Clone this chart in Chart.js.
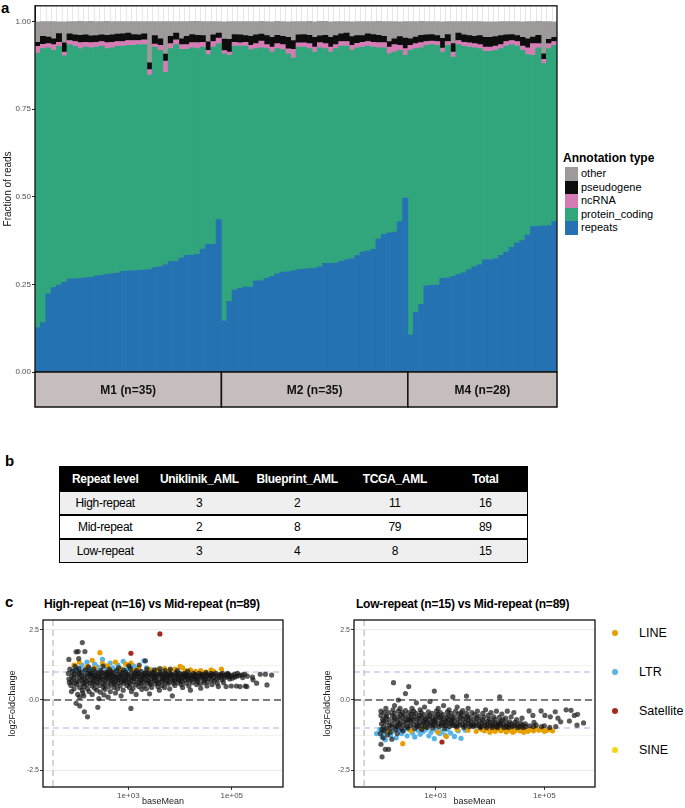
<!DOCTYPE html>
<html><head><meta charset="utf-8">
<script src="https://cdn.jsdelivr.net/npm/chart.js@4"></script>
<style>
html,body{margin:0;padding:0;background:#fff;}
body{width:685px;height:808px;position:relative;overflow:hidden;font-family:'Liberation Sans',Arial,sans-serif;color:#000;}
canvas{position:absolute;}
.plab{position:absolute;font-weight:bold;font-size:15px;line-height:15px;}
.legA{position:absolute;left:563px;top:151px;font-size:11px;}
.legA .ttl{font-weight:bold;font-size:12px;line-height:14px;margin-bottom:2px;}
.legA .it{height:13.5px;line-height:13.5px;display:flex;align-items:center;}
.legA .sw{width:13px;height:13.5px;margin-left:2px;margin-right:3px;}
table{position:absolute;left:59px;top:466px;width:469px;border-collapse:collapse;font-family:'Liberation Sans',Arial,sans-serif;font-size:12px;letter-spacing:-0.3px;border:1.5px solid #000;}
th{background:#000;color:#fff;font-weight:bold;height:23px;padding:0;text-align:center;}
td{height:22px;padding:0;text-align:center;border-top:2px solid #000;}
tr.g td{background:#efefef;}
.ctitle{position:absolute;top:597px;font-weight:bold;font-size:12px;letter-spacing:-0.25px;font-family:'Liberation Sans',Arial,sans-serif;}
.legC{position:absolute;left:612px;font-size:12.5px;display:flex;align-items:center;}
.legC .dot{width:6px;height:6px;border-radius:50%;margin-right:21px;}
</style>
</head><body>
<div class="plab" style="left:1px;top:0px;">a</div>
<canvas id="cA" width="560" height="410" style="left:0;top:0;width:560px;height:410px;"></canvas>
<div class="legA" id="legA"></div>

<div class="plab" style="left:5px;top:453px;">b</div>
<table id="tbl"></table>

<div class="plab" style="left:5px;top:594px;">c</div>
<div class="ctitle" style="left:44px;">High-repeat (n=16) vs Mid-repeat (n=89)</div>
<div class="ctitle" style="left:356px;">Low-repeat (n=15) vs Mid-repeat (n=89)</div>
<canvas id="cL" width="290" height="196" style="left:0;top:612px;width:290px;height:196px;"></canvas>
<canvas id="cR" width="290" height="196" style="left:310px;top:612px;width:290px;height:196px;"></canvas>
<div id="legC"></div>

<script>
// ---------------- Panel a data ----------------
const groupLabels = ['M1 (n=35)', 'M2 (n=35)', 'M4 (n=28)'];
const groupSizes = [35, 35, 28];
const annotationTypes = ['repeats', 'protein_coding', 'ncRNA', 'pseudogene', 'other'];
const annotationColors = ['#2472b2', '#31a67c', '#d67cb5', '#0d0d0d', '#9e9a9a'];
const fracTicks = [0, 0.25, 0.5, 0.75, 1.0];

const repeats = [
 .127,.141,.224,.241,.248,.256,.265,.266,.267,.269,.270,.274,.276,.279,.280,.282,.287,.289,.289,.290,.291,.292,.298,.301,.306,.315,.316,.325,.333,.334,.336,.351,.364,.364,.435,
 .147,.202,.234,.239,.242,.242,.260,.260,.267,.273,.281,.285,.286,.289,.292,.294,.295,.296,.301,.310,.310,.311,.316,.321,.324,.332,.342,.345,.350,.379,.392,.397,.399,.429,.496,
 .107,.170,.193,.246,.247,.248,.267,.268,.273,.279,.283,.292,.300,.306,.321,.321,.323,.333,.342,.356,.368,.375,.391,.415,.416,.417,.417,.429];
const proteinCoding = [
 .783,.782,.701,.677,.681,.646,.669,.663,.656,.658,.655,.653,.654,.644,.645,.647,.643,.643,.643,.644,.643,.555,.629,.617,.549,.608,.618,.596,.588,.591,.587,.576,.542,.563,.502,
 .761,.702,.696,.691,.688,.678,.663,.665,.656,.640,.642,.635,.622,.607,.635,.633,.628,.617,.624,.613,.603,.612,.614,.609,.594,.593,.585,.585,.577,.546,.533,.511,.514,.489,.408,
 .811,.753,.732,.686,.687,.684,.646,.664,.626,.655,.646,.635,.625,.617,.594,.594,.595,.590,.588,.578,.562,.543,.515,.489,.509,.463,.506,.503];
const ncRNA = [
 .019,.012,.012,.016,.012,.011,.012,.014,.017,.014,.015,.014,.013,.017,.016,.014,.013,.014,.014,.012,.014,.016,.009,.014,.032,.014,.014,.013,.013,.015,.017,.014,.012,.016,.016,
 .009,.009,.011,.009,.011,.012,.014,.019,.011,.014,.014,.014,.014,.025,.012,.012,.014,.014,.015,.014,.014,.011,.013,.013,.014,.013,.014,.013,.014,.015,.015,.019,.021,.014,.019,
 .014,.014,.015,.011,.010,.011,.011,.011,.014,.012,.012,.012,.012,.011,.012,.012,.012,.011,.013,.012,.013,.012,.019,.033,.012,.012,.014,.011];
const pseudogene = [
 .012,.023,.019,.017,.025,.026,.019,.019,.021,.021,.019,.019,.019,.021,.021,.021,.022,.021,.017,.016,.017,.019,.024,.019,.020,.021,.019,.017,.024,.023,.021,.019,.024,.019,.014,
 .033,.036,.022,.023,.019,.026,.025,.020,.026,.028,.024,.024,.033,.025,.023,.024,.024,.028,.019,.024,.028,.026,.022,.024,.025,.022,.019,.022,.022,.021,.018,.016,.017,.025,.030,
 .019,.019,.021,.019,.019,.017,.028,.020,.024,.021,.021,.021,.021,.026,.028,.028,.027,.026,.019,.017,.017,.025,.026,.019,.024,.016,.012,.012];
const other = [
 .058,.042,.044,.049,.033,.060,.035,.038,.040,.038,.042,.040,.038,.040,.038,.036,.035,.033,.037,.038,.035,.118,.040,.049,.093,.042,.033,.049,.042,.038,.040,.040,.058,.038,.033,
 .049,.051,.037,.038,.040,.042,.038,.037,.040,.044,.040,.042,.044,.054,.038,.037,.040,.044,.042,.040,.044,.040,.035,.033,.042,.040,.040,.035,.037,.040,.042,.057,.049,.042,.047,
 .049,.044,.040,.038,.037,.040,.047,.037,.063,.033,.038,.040,.042,.040,.044,.044,.042,.040,.038,.037,.040,.044,.049,.044,.040,.092,.051,.044];

// ---------------- Panel b data ----------------
const tableHeader = ['Repeat level', 'Uniklinik_AML', 'Blueprint_AML', 'TCGA_AML', 'Total'];
const repeatLevels = ['High-repeat', 'Mid-repeat', 'Low-repeat'];
const uniklinik = [3, 2, 3];
const blueprint = [2, 8, 4];
const tcga = [11, 79, 8];
const totals = [16, 89, 15];

// ---------------- Panel c data: [log10(baseMean), log2FoldChange] ----------------
const repeatClasses = ['LINE', 'LTR', 'Satellite', 'SINE'];
const classColors = ['#E69F00', '#56B4E9', '#A22B1E', '#F2D517'];
const maXTicks = [1e3, 1e5];
const maXTickLabels = ['1e+03', '1e+05'];
const maYTicks = [-2.5, 0, 2.5];
const maYTickLabels = ['-2.5', '0.0', '2.5'];

const highOther = [
 [1.85,0.75],[1.86,0.62],[1.84,0.95],[1.87,1.10],[1.85,1.45],[1.90,0.68],[1.91,0.85],[1.89,0.52],[1.92,1.02],[1.90,0.30],
 [1.95,0.92],[1.96,0.60],[1.94,0.78],[1.97,1.20],[1.95,0.40],[1.99,1.72],[2.00,0.55],[2.01,0.88],[1.99,1.05],[2.02,0.20],
 [2.00,0.70],[1.99,-0.12],[2.03,1.73],[2.05,0.95],[2.06,0.45],[2.04,0.65],[2.07,0.80],[2.05,1.12],[2.06,0.10],[2.06,-0.21],
 [2.04,1.48],[2.10,0.72],[2.11,0.35],[2.09,0.98],[2.12,0.58],[2.10,0.85],[2.11,2.05],[2.12,0.25],[2.15,0.62],[2.16,0.90],
 [2.14,0.48],[2.17,1.08],[2.15,0.75],[2.15,-0.42],[2.16,1.73],[2.14,0.15],[2.20,0.82],[2.21,0.40],[2.19,0.68],[2.22,0.95],
 [2.20,0.55],[2.21,-0.60],[2.23,1.18],[2.25,0.70],[2.26,0.92],[2.24,0.30],[2.27,0.60],[2.25,1.02],[2.26,0.85],[2.30,0.50],
 [2.31,0.78],[2.29,0.95],[2.32,0.65],[2.30,0.20],[2.31,0.88],[2.33,1.10],[2.35,0.88],[2.36,0.58],[2.34,0.72],[2.37,1.00],
 [2.35,0.42],[2.36,0.80],[2.40,0.62],[2.41,0.95],[2.39,0.35],[2.42,0.75],[2.40,0.85],[2.41,-0.26],[2.43,0.05],[2.45,0.70],
 [2.46,0.90],[2.44,0.52],[2.47,1.05],[2.45,0.80],[2.46,0.28],[2.50,0.85],[2.51,0.60],[2.49,0.98],[2.52,0.45],[2.50,0.75],
 [2.51,1.20],[2.53,0.18],[2.55,0.72],[2.56,0.92],[2.54,0.55],[2.57,0.82],[2.55,0.38],[2.56,1.00],[2.60,0.65],[2.61,0.88],
 [2.59,0.95],[2.62,0.48],[2.60,0.78],[2.61,0.10],[2.63,1.10],[2.65,0.80],[2.66,0.58],[2.64,0.92],[2.67,0.70],[2.65,0.30],
 [2.66,1.02],[2.70,0.90],[2.71,0.62],[2.69,0.75],[2.72,0.45],[2.70,0.98],[2.71,0.85],[2.75,0.68],[2.76,0.85],[2.74,0.55],
 [2.77,1.05],[2.75,0.25],[2.76,0.78],[2.80,0.92],[2.81,0.72],[2.79,0.40],[2.82,0.82],[2.80,0.60],[2.81,1.15],[2.85,0.75],
 [2.86,0.88],[2.84,0.50],[2.87,0.65],[2.85,0.98],[2.86,0.15],[2.90,0.82],[2.91,0.60],[2.89,0.95],[2.92,0.70],[2.90,0.35],
 [2.91,1.08],[2.95,0.68],[2.96,0.90],[2.94,0.78],[2.97,0.52],[2.95,1.00],[3.00,0.85],[3.01,0.62],[2.99,0.92],[3.02,0.45],
 [3.00,0.75],[3.01,1.22],[3.05,0.72],[3.06,0.95],[3.04,0.58],[3.07,0.80],[3.05,-0.30],[3.06,0.30],[3.04,1.12],[3.10,0.88],
 [3.11,0.65],[3.09,0.42],[3.12,0.98],[3.10,0.78],[3.15,0.75],[3.16,0.92],[3.14,0.55],[3.17,0.85],[3.15,0.20],[3.16,1.05],
 [3.20,0.62],[3.21,0.82],[3.19,0.95],[3.22,0.70],[3.20,0.48],[3.21,1.25],[3.25,0.90],[3.26,0.72],[3.24,0.58],[3.27,0.85],
 [3.25,1.02],[3.26,0.38],[3.30,0.78],[3.31,0.95],[3.29,0.65],[3.32,0.88],[3.30,0.50],[3.33,1.40],[3.35,0.70],[3.36,0.85],
 [3.34,0.98],[3.37,0.60],[3.35,0.40],[3.36,1.10],[3.40,0.82],[3.41,0.92],[3.39,0.68],[3.42,0.55],[3.40,0.95],[3.41,0.22],
 [3.45,0.75],[3.46,0.88],[3.44,0.62],[3.47,1.00],[3.45,0.45],[3.50,0.85],[3.51,0.70],[3.49,0.95],[3.52,0.58],[3.50,0.78],
 [3.51,1.08],[3.55,0.92],[3.56,0.65],[3.54,0.80],[3.57,0.48],[3.55,0.88],[3.60,0.72],[3.61,0.90],[3.59,0.60],[3.62,0.98],
 [3.60,0.35],[3.61,1.12],[3.65,0.82],[3.66,0.68],[3.64,0.92],[3.67,0.75],[3.65,0.52],[3.70,0.88],[3.71,0.62],[3.69,0.78],
 [3.72,0.95],[3.70,0.45],[3.71,1.05],[3.75,0.70],[3.76,0.85],[3.74,0.92],[3.77,0.58],[3.75,0.80],[3.80,0.78],[3.81,0.95],
 [3.79,0.65],[3.82,0.88],[3.80,0.40],[3.81,1.10],[3.85,0.85],[3.86,0.72],[3.84,0.92],[3.87,0.60],[3.85,0.15],[3.90,0.75],
 [3.91,0.90],[3.89,0.68],[3.92,0.98],[3.90,0.52],[3.95,0.82],[3.96,0.62],[3.94,0.88],[3.97,0.72],[3.95,1.05],[4.00,0.90],
 [4.01,0.70],[3.99,0.78],[4.02,0.55],[4.00,0.95],[4.05,0.80],[4.06,0.92],[4.04,0.65],[4.07,0.85],[4.05,0.45],[4.10,0.72],
 [4.11,0.88],[4.09,0.95],[4.12,0.60],[4.10,0.82],[4.15,0.85],[4.16,0.75],[4.14,0.92],[4.17,0.50],[4.15,1.02],[4.20,0.78],
 [4.21,0.90],[4.19,0.68],[4.22,0.88],[4.20,0.35],[4.25,0.82],[4.26,0.95],[4.24,0.62],[4.27,0.75],[4.30,0.88],[4.31,0.72],
 [4.29,0.92],[4.32,0.55],[4.30,0.80],[4.35,0.75],[4.36,0.85],[4.34,0.65],[4.37,0.95],[4.40,0.90],[4.41,0.78],[4.39,0.58],
 [4.42,0.88],[4.40,0.42],[4.45,0.82],[4.46,0.70],[4.44,0.92],[4.47,0.62],[4.50,0.85],[4.51,0.92],[4.49,0.75],[4.52,0.50],
 [4.50,0.98],[4.55,0.78],[4.56,0.88],[4.54,0.65],[4.60,0.90],[4.61,0.72],[4.59,0.85],[4.62,0.55],[4.60,0.95],[4.65,0.82],
 [4.66,0.68],[4.64,0.92],[4.70,0.88],[4.71,0.75],[4.69,0.95],[4.72,0.60],[4.75,0.80],[4.76,0.90],[4.74,0.48],[4.80,0.85],
 [4.81,0.72],[4.79,0.92],[4.82,0.95],[4.85,0.78],[4.86,0.88],[4.84,0.62],[4.90,0.90],[4.91,0.82],[4.89,0.48],[4.92,0.95],
 [4.95,0.85],[4.96,0.75],[4.94,0.92],[5.00,0.88],[5.01,0.78],[4.99,0.50],[5.05,0.92],[5.06,0.82],[5.10,0.85],[5.11,0.95],
 [5.09,0.50],[5.15,0.88],[5.16,0.48],[5.20,0.90],[5.21,0.80],[5.25,0.92],[5.26,0.50],[5.30,0.85],[5.29,0.48],[5.40,0.82],
 [5.41,0.72],[5.48,0.60],[5.55,0.92],[5.65,0.92],[5.68,0.54],[5.77,0.89]];
const highLTR = [
 [1.95,1.05],[2.00,1.15],[2.05,1.02],[2.10,1.25],[2.15,1.08],[2.20,1.35],[2.25,1.12],[2.30,1.05],[2.35,1.28],[2.40,1.18],
 [2.45,1.05],[2.50,1.45],[2.55,1.22],[2.60,1.10],[2.65,1.32],[2.70,1.15],[2.75,1.05],[2.80,1.25],[2.85,1.12],[2.90,1.38],
 [2.95,1.05],[3.00,1.18],[3.05,1.08],[3.10,1.22],[3.15,1.12],[3.20,1.05],[3.30,1.40],[3.35,1.15],[3.45,1.08],[3.60,1.05],[3.70,1.10]];
const highLINE = [
 [1.95,1.25],[2.05,1.35],[2.20,1.20],[2.30,1.42],[2.35,1.15],[2.45,1.69],[2.50,1.30],[2.60,1.22],[2.65,1.05],[2.75,1.35],
 [2.85,1.10],[2.95,1.28],[3.05,1.32],[3.10,1.05],[3.20,1.15],[3.40,1.10],[3.55,1.08],[3.70,1.12],[3.80,1.05],[3.90,1.10],
 [4.00,1.20],[4.05,1.15],[4.10,1.05],[4.20,1.08],[4.30,1.02],[4.40,1.05],[4.50,1.00],[4.60,1.08],[4.65,1.02],[4.80,1.10]];
const highSatellite = [[3.05,1.67],[3.61,2.36]];
const highSINE = [];

const lowOther = [
 [2.00,-0.55],[2.01,-0.85],[1.99,-1.20],[2.00,-0.40],[2.00,-1.58],[2.02,-2.03],[2.03,-0.70],[2.02,-1.05],[2.05,-0.95],[2.06,-0.45],
 [2.04,-1.35],[2.05,-0.75],[2.06,-1.10],[2.08,-1.76],[2.09,-0.62],[2.10,-0.80],[2.11,-1.00],[2.09,-0.30],[2.12,-1.25],[2.10,-0.58],
 [2.15,-0.70],[2.16,-0.90],[2.14,-0.45],[2.17,-1.15],[2.14,-1.76],[2.20,-0.85],[2.21,-0.55],[2.19,-0.98],[2.22,-0.35],[2.20,-1.40],
 [2.23,0.62],[2.24,-0.72],[2.25,-0.65],[2.26,-0.92],[2.24,-0.48],[2.27,-1.05],[2.25,-0.20],[2.30,-0.78],[2.31,-0.60],[2.29,-0.95],
 [2.32,-0.40],[2.30,-1.20],[2.32,0.00],[2.33,-0.88],[2.35,-0.70],[2.36,-0.52],[2.34,-0.85],[2.37,-1.02],[2.35,-0.30],[2.40,-0.62],
 [2.41,-0.90],[2.39,-0.45],[2.42,-0.78],[2.40,-1.10],[2.45,0.23],[2.46,-0.72],[2.44,-0.55],[2.47,-0.95],[2.45,-0.38],[2.50,-0.82],
 [2.51,-0.60],[2.49,-1.00],[2.52,-0.45],[2.50,-0.70],[2.51,0.48],[2.55,-0.75],[2.56,-0.50],[2.54,-0.92],[2.57,-0.30],[2.55,-0.65],
 [2.60,-0.88],[2.61,-0.58],[2.59,-0.72],[2.62,-1.02],[2.60,-0.40],[2.65,-0.68],[2.66,-0.85],[2.64,-0.48],[2.67,-0.95],[2.65,-0.10],
 [2.70,-0.78],[2.71,-0.55],[2.69,-0.92],[2.72,-0.35],[2.70,-0.65],[2.75,-0.62],[2.76,-0.88],[2.74,-0.45],[2.77,-0.80],[2.75,-1.05],
 [2.80,-0.72],[2.81,-0.95],[2.79,-0.52],[2.82,-0.68],[2.80,-0.25],[2.85,-0.85],[2.86,-0.60],[2.84,-0.78],[2.87,-0.42],[2.85,-0.98],
 [2.90,-0.70],[2.91,-0.90],[2.89,-0.55],[2.92,-0.82],[2.90,-0.05],[2.95,-0.65],[2.96,-0.88],[2.94,-0.48],[2.97,-0.75],[2.95,-1.00],
 [2.98,0.32],[3.00,-0.78],[3.01,-0.58],[2.99,-0.92],[3.02,-0.40],[3.00,-0.70],[3.05,-0.85],[3.06,-0.62],[3.04,-0.50],[3.07,-0.95],
 [3.05,-0.30],[3.10,-0.72],[3.11,-0.90],[3.09,-0.45],[3.12,-0.80],[3.10,-0.60],[3.15,-0.68],[3.16,-0.88],[3.14,-0.52],[3.17,-1.02],
 [3.15,-0.20],[3.20,-0.80],[3.21,-0.62],[3.19,-0.92],[3.22,-0.42],[3.20,-0.75],[3.25,-0.70],[3.26,-0.95],[3.24,-0.55],[3.27,-0.85],
 [3.25,-0.35],[3.30,-0.82],[3.31,-0.65],[3.29,-0.48],[3.32,-0.90],[3.30,-0.72],[3.32,0.11],[3.35,-0.75],[3.36,-0.92],[3.34,-0.58],
 [3.37,-0.40],[3.40,-0.85],[3.41,-0.68],[3.39,-0.95],[3.42,-0.50],[3.40,-0.25],[3.45,-0.78],[3.46,-0.62],[3.44,-0.90],[3.47,-0.45],
 [3.50,-0.88],[3.51,-0.70],[3.49,-0.55],[3.52,-0.98],[3.50,-0.38],[3.55,-0.80],[3.56,-0.65],[3.54,-0.92],[3.57,-0.48],[3.57,0.14],
 [3.60,-0.85],[3.61,-0.72],[3.59,-0.58],[3.62,-0.95],[3.60,-0.30],[3.65,-0.78],[3.66,-0.90],[3.64,-0.62],[3.67,-0.45],[3.70,-0.88],
 [3.71,-0.70],[3.69,-0.95],[3.72,-0.52],[3.75,-0.82],[3.76,-0.65],[3.74,-0.92],[3.77,-0.40],[3.80,-0.90],[3.81,-0.75],[3.79,-0.58],
 [3.82,-0.98],[3.85,-0.85],[3.86,-0.70],[3.84,-0.95],[3.87,-0.48],[3.90,-0.80],[3.91,-0.92],[3.89,-0.62],[3.92,-0.35],[3.95,-0.88],
 [3.96,-0.75],[3.94,-0.98],[3.97,-0.55],[4.00,-0.82],[4.01,-0.92],[3.99,-0.68],[4.02,-0.45],[4.05,-0.90],[4.06,-0.78],[4.04,-0.98],
 [4.07,-0.60],[4.10,-0.85],[4.11,-0.95],[4.09,-0.70],[4.12,-0.40],[4.15,-0.88],[4.16,-0.80],[4.14,-0.98],[4.17,-0.62],[4.18,0.11],
 [4.20,-0.92],[4.21,-0.75],[4.19,-0.85],[4.22,-0.50],[4.25,-0.88],[4.26,-0.98],[4.24,-0.70],[4.30,-0.82],[4.31,-0.95],[4.29,-0.65],
 [4.32,-0.40],[4.35,-0.90],[4.36,-0.78],[4.34,-0.98],[4.40,-0.85],[4.41,-0.95],[4.39,-0.60],[4.45,-0.92],[4.46,-0.80],[4.44,-0.45],
 [4.50,-0.88],[4.51,-0.98],[4.49,-0.70],[4.55,-0.95],[4.56,-0.82],[4.60,-0.90],[4.61,-0.98],[4.59,-0.65],[4.65,-0.85],[4.66,-0.95],
 [4.72,-0.39],[4.73,-0.92],[4.80,-0.95],[4.81,-0.80],[4.79,-0.55],[4.85,-0.90],[4.94,-0.39],[4.95,-0.95],[5.00,-0.92],[5.01,-0.55],
 [5.10,-0.98],[5.11,-0.60],[5.20,-0.42],[5.21,-0.95],[5.25,-0.65],[5.30,-0.78],[5.40,-0.35],[5.46,-0.75],[5.49,-0.37],[5.55,-0.55],
 [5.60,-0.90],[5.61,-0.51],[5.72,-0.82]];
const lowLTR = [
 [1.92,-1.20],[1.98,-1.05],[2.02,-1.30],[2.05,-1.15],[2.08,-1.42],[2.12,-1.08],[2.18,-1.25],[2.22,-1.12],[2.28,-1.35],[2.32,-1.05],
 [2.38,-1.20],[2.42,-1.10],[2.48,-1.28],[2.52,-1.05],[2.58,-1.18],[2.62,-1.32],[2.68,-1.08],[2.72,-1.22],[2.78,-1.12],[2.82,-1.05],
 [2.88,-1.28],[2.92,-1.15],[2.98,-1.38],[3.02,-1.08],[3.08,-1.20],[3.12,-1.12],[3.18,-1.25],[3.22,-1.05],[3.28,-1.18],[3.35,-1.30],
 [3.42,-1.10],[3.47,-1.37],[3.55,-1.08]];
const lowLINE = [
 [2.15,-1.12],[2.40,-1.56],[2.55,-1.10],[2.75,-1.02],[3.05,-1.15],[3.20,-1.30],[3.40,-1.05],[3.60,-1.08],[3.75,-1.12],[3.85,-1.05],
 [3.90,-1.10],[3.95,-1.02],[4.00,-1.15],[4.05,-1.08],[4.10,-1.12],[4.12,-0.99],[4.15,-1.02],[4.20,-1.10],[4.25,-1.05],[4.30,-1.14],
 [4.35,-1.08],[4.40,-1.02],[4.42,-1.15],[4.45,-1.12],[4.50,-1.05],[4.55,-1.10],[4.60,-1.02],[4.62,-1.15],[4.65,-1.08],[4.70,-1.12],
 [4.75,-1.05],[4.80,-1.10],[4.85,-1.02],[4.90,-1.08],[4.95,-1.05],[5.00,-1.12],[5.05,-1.08],[5.10,-1.05],[5.15,-1.10]];
const lowSatellite = [[3.12,-1.50]];
const lowSINE = [];

// axis limits (log10 baseMean / log2FC)
const highXRange = [1.35, 5.99];
const lowXRange = [1.505, 5.93];
const maYRange = [-3.107, 2.857];
const highMinBaseMean = 35;
const lowMinBaseMean = 49;

// ---------------- Panel a ----------------
const nBars = repeats.length;
const sampleLabels = [];
groupSizes.forEach((n, g) => { for (let i = 0; i < n; i++) sampleLabels.push(groupLabels[g].split(' ')[0] + '_' + (i + 1)); });
const seriesA = [repeats, proteinCoding, ncRNA, pseudogene, other];

const panelAPlugin = {
  id: 'panelA',
  beforeDatasetsDraw(chart) {
    const { ctx, chartArea: a, scales: { x, y } } = chart;
    const w = (a.right - a.left) / nBars;
    const y1 = y.getPixelForValue(1);
    ctx.save();
    ctx.strokeStyle = '#e6e6e6';
    ctx.lineWidth = 1;
    for (let i = 1; i < nBars; i++) {
      const px = Math.round(a.left + i * w) + 0.5;
      ctx.beginPath(); ctx.moveTo(px, a.top); ctx.lineTo(px, y1); ctx.stroke();
    }
    ctx.restore();
  },
  afterDraw(chart) {
    const { ctx, chartArea: a } = chart;
    const w = (a.right - a.left) / nBars;
    ctx.save();
    ctx.strokeStyle = '#111';
    ctx.lineWidth = 1.3;
    ctx.strokeRect(a.left, a.top, a.right - a.left, a.bottom - a.top);
    let start = 0;
    const sTop = a.bottom, sH = 35;
    groupSizes.forEach((n, g) => {
      const x0 = a.left + start * w, x1 = a.left + (start + n) * w;
      ctx.fillStyle = '#c6bebd';
      ctx.fillRect(x0, sTop, x1 - x0, sH);
      ctx.strokeStyle = '#111';
      ctx.lineWidth = 1.5;
      ctx.strokeRect(x0, sTop, x1 - x0, sH);
      ctx.fillStyle = '#111';
      ctx.font = "bold 12px 'Liberation Sans', Arial, sans-serif";
      ctx.textAlign = 'center'; ctx.textBaseline = 'middle';
      ctx.fillText(groupLabels[g], (x0 + x1) / 2, sTop + sH / 2 + 1);
      start += n;
    });
    ctx.restore();
  }
};

new Chart(document.getElementById('cA'), {
  type: 'bar',
  data: {
    labels: sampleLabels,
    datasets: annotationTypes.map((t, i) => ({
      label: t, data: seriesA[i], backgroundColor: annotationColors[i],
      borderWidth: 0, barPercentage: 1, categoryPercentage: 1
    }))
  },
  options: {
    responsive: false, animation: false, devicePixelRatio: 1,
    layout: { padding: { left: 2, right: 3, top: 3, bottom: 38 } },
    plugins: { legend: { display: false }, tooltip: { enabled: false } },
    scales: {
      x: { stacked: true, display: false },
      y: {
        stacked: true, min: 0, max: 1.045,
        afterFit: s => { s.width = 33; },
        afterBuildTicks: s => { s.ticks = fracTicks.map(v => ({ value: v })); },
        ticks: { callback: v => Number(v).toFixed(2), font: { size: 8, family: "'Liberation Sans', Arial" }, color: '#4d4d4d', padding: 1 },
        grid: { drawOnChartArea: false, drawTicks: true, tickLength: 3, color: '#222' },
        border: { display: true, color: '#111', width: 1 },
        title: { display: true, text: 'Fraction of reads', font: { size: 10, family: "'Liberation Sans', Arial" }, color: '#111', padding: { top: 0, bottom: 0 } }
      }
    }
  },
  plugins: [panelAPlugin]
});

(function () {
  const el = document.getElementById('legA');
  let h = '<div class="ttl">Annotation type</div>';
  for (let i = annotationTypes.length - 1; i >= 0; i--) {
    h += '<div class="it"><div class="sw" style="background:' + annotationColors[i] + '"></div><span>' + annotationTypes[i] + '</span></div>';
  }
  el.innerHTML = h;
})();

// ---------------- Panel b ----------------
(function () {
  const t = document.getElementById('tbl');
  let h = '<tr>' + tableHeader.map(c => '<th>' + c + '</th>').join('') + '</tr>';
  repeatLevels.forEach((r, i) => {
    h += '<tr class="' + (i % 2 === 0 ? 'g' : '') + '"><td>' + r + '</td><td>' + uniklinik[i] + '</td><td>' + blueprint[i] + '</td><td>' + tcga[i] + '</td><td>' + totals[i] + '</td></tr>';
  });
  t.innerHTML = h;
  const widths = [91, 98, 98, 98, 84];
  t.querySelectorAll('th').forEach((th, i) => th.style.width = widths[i] + 'px');
})();

// ---------------- Panel c ----------------
function toPts(arr) { return arr.map(p => ({ x: Math.pow(10, p[0]), y: p[1] })); }

function maChart(id, xr, vline, greyPts, classPts, yw, titlePad, padRight) {
  const refPlugin = {
    id: 'ref' + id,
    beforeDatasetsDraw(chart) {
      const { ctx, chartArea: a, scales: { x, y } } = chart;
      ctx.save();
      ctx.beginPath(); ctx.rect(a.left, a.top, a.right - a.left, a.bottom - a.top); ctx.clip();
      ctx.strokeStyle = '#f3f3f3'; ctx.lineWidth = 1;
      [-1.25, 1.25].forEach(v => { const py = Math.round(y.getPixelForValue(v)) + 0.5; ctx.beginPath(); ctx.moveTo(a.left, py); ctx.lineTo(a.right, py); ctx.stroke(); });
      ctx.setLineDash([6, 4]);
      ctx.strokeStyle = '#ababab'; ctx.lineWidth = 1;
      const vx = x.getPixelForValue(vline);
      ctx.beginPath(); ctx.moveTo(vx, a.top); ctx.lineTo(vx, a.bottom); ctx.stroke();
      ctx.strokeStyle = '#afafe2'; ctx.lineWidth = 1.1;
      [-1, 1].forEach(v => { const py = y.getPixelForValue(v); ctx.beginPath(); ctx.moveTo(a.left, py); ctx.lineTo(a.right, py); ctx.stroke(); });
      ctx.strokeStyle = '#555'; ctx.lineWidth = 1.3; ctx.setLineDash([7, 4]);
      const p0 = y.getPixelForValue(0);
      ctx.beginPath(); ctx.moveTo(a.left, p0); ctx.lineTo(a.right, p0); ctx.stroke();
      ctx.restore();
    },
    afterDraw(chart) {
      const { ctx, chartArea: a } = chart;
      ctx.save(); ctx.strokeStyle = '#111'; ctx.lineWidth = 1.3;
      ctx.strokeRect(a.left, a.top, a.right - a.left, a.bottom - a.top);
      ctx.restore();
    }
  };
  const datasets = [{ data: toPts(greyPts), backgroundColor: 'rgba(20,20,20,0.7)', pointRadius: 2.6, borderWidth: 0 }];
  classPts.forEach((pts, i) => datasets.push({ data: toPts(pts), backgroundColor: classColors[i], pointRadius: 2.6, borderWidth: 0 }));
  const fnt = "'Liberation Sans', Arial, sans-serif";
  new Chart(document.getElementById(id), {
    type: 'scatter',
    data: { datasets },
    options: {
      responsive: false, animation: false, devicePixelRatio: 1,
      layout: { padding: { left: 0, right: padRight, top: 8, bottom: 0 } },
      plugins: { legend: { display: false }, tooltip: { enabled: false } },
      scales: {
        x: {
          type: 'logarithmic', min: Math.pow(10, xr[0]), max: Math.pow(10, xr[1]),
          afterBuildTicks: s => { s.ticks = maXTicks.map(v => ({ value: v })); },
          afterFit: s => { s.height = 21; },
          ticks: { callback: v => maXTickLabels[maXTicks.indexOf(v)], font: { size: 8, family: fnt }, color: '#4d4d4d', maxRotation: 0, padding: 1, autoSkip: false },
          grid: { drawOnChartArea: false, drawTicks: true, tickLength: 3, color: '#333' },
          border: { display: false },
          title: { display: true, text: 'baseMean', font: { size: 9, family: fnt }, color: '#222', padding: { top: 0, bottom: 1 } }
        },
        y: {
          min: maYRange[0], max: maYRange[1],
          afterBuildTicks: s => { s.ticks = maYTicks.map(v => ({ value: v })); },
          afterFit: s => { s.width = yw; },
          ticks: { callback: v => maYTickLabels[maYTicks.indexOf(v)], font: { size: 7, family: fnt }, color: '#4d4d4d', padding: 1 },
          grid: { drawOnChartArea: true, color: '#ececec', tickColor: '#333', drawTicks: true, tickLength: 3 },
          border: { display: false },
          title: { display: true, text: 'log2FoldChange', font: { size: 9, family: fnt }, color: '#222', padding: { top: titlePad, bottom: 0 } }
        }
      }
    },
    plugins: [refPlugin]
  });
}

maChart('cL', highXRange, highMinBaseMean, highOther, [highLINE, highLTR, highSatellite, highSINE], 43, 7, 7);
maChart('cR', lowXRange, lowMinBaseMean, lowOther, [lowLINE, lowLTR, lowSatellite, lowSINE], 44, 12, 5);

(function () {
  const el = document.getElementById('legC');
  const ys = [633, 672, 711, 750];
  el.innerHTML = repeatClasses.map((c, i) =>
    '<div class="legC" style="top:' + (ys[i] - 8) + 'px;height:16px;"><div class="dot" style="background:' + classColors[i] + '"></div><span>' + c + '</span></div>').join('');
})();
</script>
</body></html>
